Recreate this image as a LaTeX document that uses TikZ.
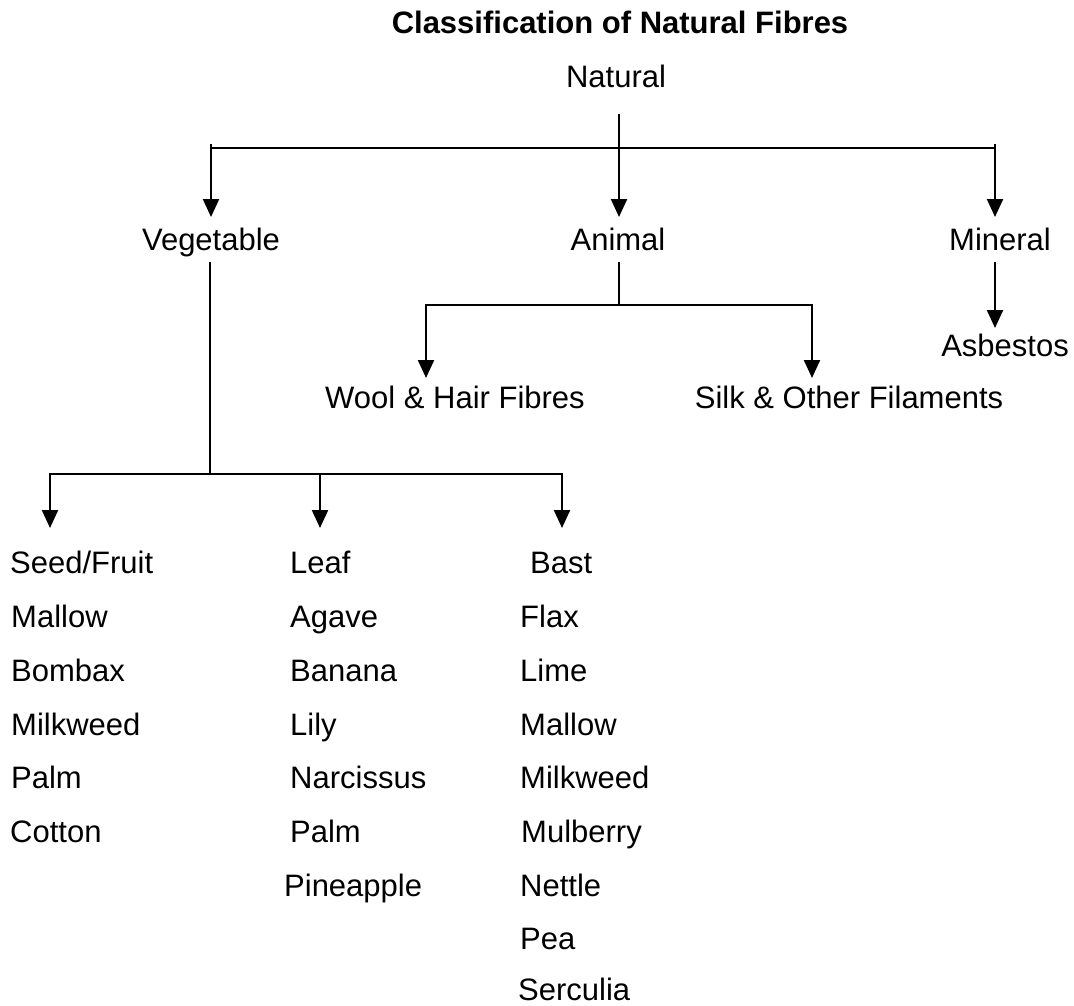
\documentclass[tikz,border=0pt]{standalone}
\usepackage{fontspec}
\setmainfont{Liberation Sans}
\usetikzlibrary{arrows.meta}
\begin{document}
\begin{tikzpicture}[x=1pt,y=-1pt,
  lbl/.style={inner sep=0pt,anchor=base,font=\fontsize{31}{37}\selectfont},
  lst/.style={inner sep=0pt,anchor=base west,font=\fontsize{31}{37}\selectfont},
  ttl/.style={inner sep=0pt,anchor=base,font=\fontsize{31}{37}\selectfont\bfseries},
  ln/.style={line width=2.2pt,black},
  arr/.style={ln,-{Triangle[width=16pt,length=18pt]}},
  barr/.style={ln,{Triangle[width=16pt,length=18pt]}-{Triangle[width=16pt,length=18pt]}}]
\useasboundingbox (0,0) rectangle (1074,1005);
% texts
\node[ttl] (title) at (620,33) {Classification of Natural Fibres};
\node[lbl] (natural) at (616,87) {Natural};
\node[lbl] (veg) at (211,250) {Vegetable};
\node[lbl] (animal) at (618,250) {Animal};
\node[lbl] (mineral) at (1000,250) {Mineral};
\node[lbl] (asbestos) at (1005,356) {Asbestos};
\node[lbl] (wool) at (455,408) {Wool \& Hair Fibres};
\node[lbl] (silk) at (849,408) {Silk \& Other Filaments};
\node[lst] (seed) at (10,573) {Seed/Fruit};
\node[lst] (leaf) at (290,573) {Leaf};
\node[lst] (bast) at (530,573) {Bast};
% seed column
\node[lst] (s1) at (11,627) {Mallow};
\node[lst] (s2) at (11,681) {Bombax};
\node[lst] (s3) at (11,735) {Milkweed};
\node[lst] (s4) at (11,788) {Palm};
\node[lst] (s5) at (10,842) {Cotton};
% leaf column
\node[lst] (l1) at (290,627) {Agave};
\node[lst] (l2) at (290,681) {Banana};
\node[lst] (l3) at (290,735) {Lily};
\node[lst] (l4) at (290,788) {Narcissus};
\node[lst] (l5) at (290,842) {Palm};
\node[lst] (l6) at (284,896) {Pineapple};
% bast column
\node[lst] (b1) at (520,627) {Flax};
\node[lst] (b2) at (520,681) {Lime};
\node[lst] (b3) at (520,735) {Mallow};
\node[lst] (b4) at (520,788) {Milkweed};
\node[lst] (b5) at (521,842) {Mulberry};
\node[lst] (b6) at (520,896) {Nettle};
\node[lst] (b7) at (520,949) {Pea};
\node[lst] (b8) at (518,1000) {Serculia};
% junction coordinates
\coordinate (natbot) at (619,114);
\coordinate (animaltip) at (619,217);
\coordinate (vegtop) at (211,144);
\coordinate (vegtip) at (211,217);
\coordinate (mintop) at (995,144);
\coordinate (mintip) at (995,217);
\coordinate (topbarL) at (211,148);
\coordinate (topbarR) at (995,148);
\coordinate (animalbot) at (619,262);
\coordinate (animalbar) at (619,305);
\coordinate (wooltip) at (426,378);
\coordinate (silktip) at (812,378);
\coordinate (minbot) at (995,262);
\coordinate (asbtip) at (995,328);
\coordinate (vegbot) at (210,262);
\coordinate (vegbar) at (210,474);
\coordinate (seedtip) at (50,528);
\coordinate (leaftip) at (320,528);
\coordinate (basttip) at (562,528);
% connectors
\draw[arr] (natbot) -- (animaltip);
\draw[ln] (topbarL) -- (topbarR);
\draw[arr] (vegtop) -- (vegtip);
\draw[arr] (mintop) -- (mintip);
\draw[ln] (animalbot) -- (animalbar);
\draw[barr] (wooltip) |- (animalbar) -| (silktip);
\draw[arr] (minbot) -- (asbtip);
\draw[ln] (vegbot) -- (vegbar);
\draw[barr] (seedtip) |- (vegbar) -| (basttip);
\draw[arr] (leaftip |- vegbar) -- (leaftip);
\end{tikzpicture}
\end{document}
